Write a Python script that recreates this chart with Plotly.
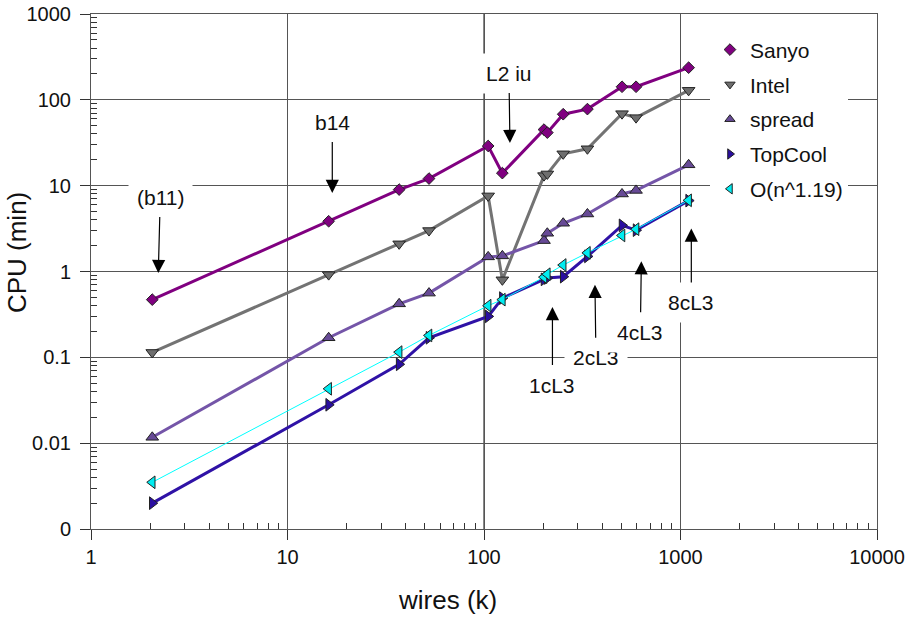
import math
import plotly.graph_objects as go

# ---- data ----
wires_k = [2.05, 16.2, 37, 52.5, 105, 124, 202, 210, 253, 336, 504, 594, 1100]
sanyo = [0.47, 3.85, 9.0, 12.1, 29.0, 14.0, 45.0, 41.5, 68, 78, 142, 142, 237]
intel = [0.114, 0.92, 2.1, 3.0, 7.6, 0.80, 13.1, 13.7, 23.5, 26.9, 69, 62, 129]
spread = [0.0117, 0.169, 0.42, 0.56, 1.48, 1.52, 2.29, 2.79, 3.65, 4.68, 8.0, 8.8, 17.5]
topcool = [0.0020, 0.028, 0.083, 0.169, 0.30, 0.49, 0.81, 0.84, 0.87, 1.50, 3.45, 3.03, 6.7]
o_n119 = [0.0035, 0.043, 0.115, 0.18, 0.40, 0.47, 0.86, 0.93, 1.19, 1.65, 2.63, 3.11, 6.75]

series_names = ["Sanyo", "Intel", "spread", "TopCool", "O(n^1.19)"]
series_values = [sanyo, intel, spread, topcool, o_n119]

x_tick_vals = [1, 10, 100, 1000, 10000]
x_tick_text = ["1", "10", "100", "1000", "10000"]
y_tick_vals = [0.001, 0.01, 0.1, 1, 10, 100, 1000]
y_tick_text = ["0", "0.01", "0.1", "1", "10", "100", "1000"]

# annotation labels with the data point each arrow points to
note_labels = ["(b11)", "b14", "L2 iu", "1cL3", "2cL3", "4cL3", "8cL3"]
note_wires = [2.2, 16.9, 135.5, 223, 367, 632, 1135]
note_cpu = [0.96, 8.2, 31.4, 0.385, 0.70, 1.32, 3.17]

# ---- styles ----
styles = [
    dict(symbol="diamond", size=9, fill="#800080", line="#800080", lw=3),
    dict(symbol="triangle-down", size=11, fill="#6e6e6e", line="#737373", lw=3),
    dict(symbol="triangle-up", size=11, fill="#674a96", line="#7455a8", lw=3),
    dict(symbol="triangle-right", size=11, fill="#2a0ea0", line="#2f12a6", lw=3),
    dict(symbol="triangle-left", size=11, fill="#00ecf0", line="#00ffff", lw=1),
]
note_offsets = [-76, -71, -70, 78, 73, 71, 74]
note_dx = [2, 0, -1, 0, 1, -1, 0]

FONT = "Liberation Sans, Arial, sans-serif"

fig = go.Figure()

for name, vals, st in zip(series_names, series_values, styles):
    fig.add_trace(go.Scatter(
        x=wires_k, y=vals, mode="lines+markers", name=name, showlegend=False,
        line=dict(color=st["line"], width=st["lw"]),
        marker=dict(symbol=st["symbol"], size=st["size"], color=st["fill"],
                    line=dict(color="#222222", width=1)),
    ))

# legend-only entries (markers only, as in the reference)
for name, st in zip(series_names, styles):
    fig.add_trace(go.Scatter(
        x=[None], y=[None], mode="markers", name=name, showlegend=True,
        legendgroup=name,
        marker=dict(symbol=st["symbol"], size=9, color=st["fill"],
                    line=dict(color="#222222", width=1)),
    ))

# black line at x=100 (drawn darker in the reference)
fig.add_shape(type="line", xref="x", yref="paper", x0=100, x1=100, y0=0, y1=1,
              line=dict(color="#111111", width=1), layer="below")

for lab, xw, yc, dy, dx in zip(note_labels, note_wires, note_cpu, note_offsets, note_dx):
    fig.add_annotation(
        x=math.log10(xw), y=math.log10(yc), xref="x", yref="y",
        text=lab, showarrow=True, ax=dx, ay=dy,
        arrowhead=2, arrowsize=2.2, arrowwidth=1.2, arrowcolor="#000000",
        standoff=0, bgcolor="white", borderpad=8,
        font=dict(family=FONT, size=21, color="#111111"),
    )

# axis titles as annotations (they sit off-centre in the reference)
fig.add_annotation(text="wires (k)", xref="paper", yref="paper", x=0.453, y=-0.137,
                   showarrow=False, xanchor="center", yanchor="middle",
                   font=dict(family=FONT, size=26, color="#111111"))
fig.add_annotation(text="CPU (min)", xref="paper", yref="paper", x=-0.094, y=0.536,
                   showarrow=False, xanchor="center", yanchor="middle", textangle=-90,
                   font=dict(family=FONT, size=26, color="#111111"))

minor_x = [m * 10 ** e for e in range(0, 4) for m in range(2, 10)]
minor_y = [m * 10.0 ** e for e in range(-3, 3) for m in range(2, 10)]

fig.update_xaxes(
    type="log", range=[0, 4], tickmode="array", tickvals=x_tick_vals, ticktext=x_tick_text,
    ticks="outside", ticklen=10, tickcolor="#333333", tickwidth=1,
    showgrid=True, gridcolor="#555555", gridwidth=1,
    showline=True, linecolor="#555555", linewidth=1, mirror=True, zeroline=False,
    minor=dict(tickmode="array", tickvals=minor_x, ticks="inside", ticklen=6,
               tickcolor="#333333", showgrid=False),
    tickfont=dict(family=FONT, size=20, color="#111111"),
    ticklabelstandoff=0, automargin=False,
)
fig.update_yaxes(
    type="log", range=[-3, 3], tickmode="array", tickvals=y_tick_vals, ticktext=y_tick_text,
    ticks="outside", ticklen=10, tickcolor="#333333", tickwidth=1,
    showgrid=True, gridcolor="#555555", gridwidth=1,
    showline=True, linecolor="#555555", linewidth=1, mirror=True, zeroline=False,
    minor=dict(tickmode="array", tickvals=minor_y, ticks="inside", ticklen=6,
               tickcolor="#333333", showgrid=False),
    tickfont=dict(family=FONT, size=20, color="#111111"),
    ticklabelstandoff=5, automargin=False,
)

fig.update_layout(
    width=916, height=617,
    margin=dict(l=91, r=39, t=14, b=88, autoexpand=False),
    paper_bgcolor="white", plot_bgcolor="white",
    font=dict(family=FONT, size=20, color="#111111"),
    legend=dict(x=0.7875, y=0.97, xanchor="left", yanchor="top", bgcolor="white",
                borderwidth=0, font=dict(family=FONT, size=21, color="#111111"),
                tracegroupgap=4.5, traceorder="grouped", itemsizing="trace"),
)

fig.write_html("out.html")
